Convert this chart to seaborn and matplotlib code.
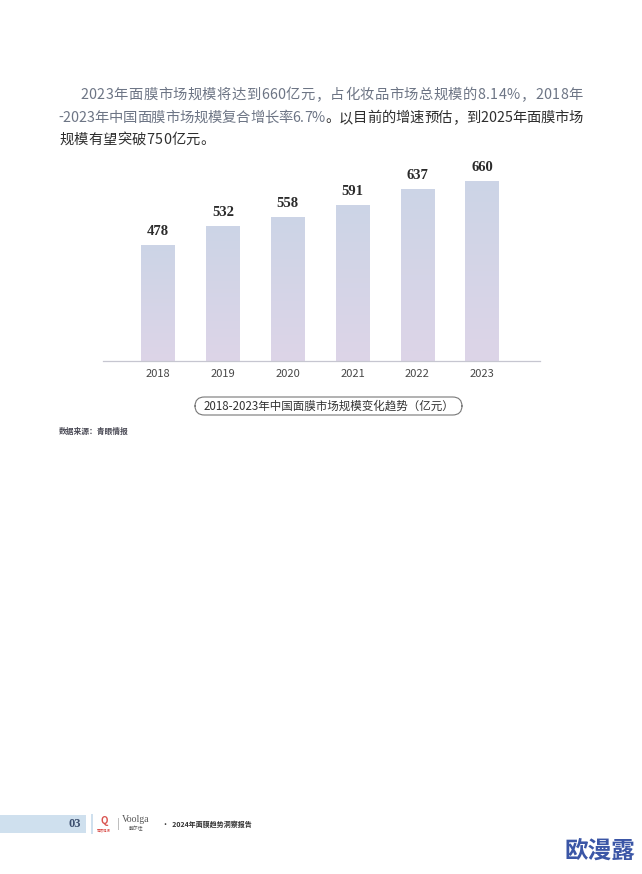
import numpy as np
import pandas as pd
import matplotlib
matplotlib.use("Agg")
import matplotlib.pyplot as plt
from matplotlib.patches import FancyBboxPatch, Rectangle
from matplotlib.colors import LinearSegmentedColormap
import seaborn as sns

sns.set_style("white")
plt.rcParams['font.family'] = ['Noto Sans CJK SC', 'DejaVu Sans']

# data
years = ['2018', '2019', '2020', '2021', '2022', '2023']
market_size = [478, 532, 558, 591, 637, 660]

intro_lines = [
    [("2023年面膜市场规模将达到660亿元，占化妆品市场总规模的8.14%，2018年", '#6d7585')],
    [("-2023年中国面膜市场规模复合增长率6.7%", '#6d7585'),
     ("。以目前的增速预估，到2025年面膜市场", '#2e2e2e')],
    [("规模有望突破750亿元。", '#2e2e2e')],
]
caption = "2018-2023年中国面膜市场规模变化趋势（亿元）"
source = "数据来源：青眼情报"

W, H = 642, 874
fig = plt.figure(figsize=(W / 100, H / 100), dpi=100)
fig.patch.set_facecolor('white')


def px(x, y):
    return x / W, 1 - y / H


# ---- intro paragraph (justified line by line) ----
renderer = fig.canvas.get_renderer()
line_specs = [(80, 583, 95, True), (58, 583, 118, True), (59, None, 140, False)]
for segs, (x0, x1, y, justify) in zip(intro_lines, line_specs):
    chars = [(c, col) for s, col in segs for c in s]
    widths = []
    for c, col in chars:
        t = fig.text(0, 0, c, fontsize=10.3)
        widths.append(t.get_window_extent(renderer).width)
        t.remove()
    gap = (x1 - x0 - sum(widths)) / (len(chars) - 1) if justify else 0.3
    x = x0
    for (c, col), w in zip(chars, widths):
        fx, fy = px(x, y)
        fig.text(fx, fy, c, fontsize=10.3, color=col, va='center', ha='left')
        x += w + gap

# ---- bar chart ----
ax = fig.add_axes([103 / W, 1 - 361 / H, (540 - 103) / W, (361 - 160) / H])
df = pd.DataFrame({'year': years, 'size': market_size})
sns.barplot(data=df, x='year', y='size', ax=ax, width=0.52,
            color='#d4d6e8', saturation=1, linewidth=0)

cmap = LinearSegmentedColormap.from_list('bar', ['#ddd4e8', '#ccd5e6'])
grad = np.linspace(0, 1, 256).reshape(-1, 1)
for bar, v in zip(ax.patches, market_size):
    bx = bar.get_x()
    bw = bar.get_width()
    im = ax.imshow(grad, extent=[bx, bx + bw, 148, v], origin='lower',
                   cmap=cmap, aspect='auto', zorder=2)
    im.set_clip_path(bar)
    ax.text(bx + bw / 2, v + 20, str(v), ha='center', va='bottom',
            fontsize=10.5, fontweight='bold', family='Liberation Serif',
            color='#2b2b2b')
ax.set_xlim(-0.85, 5.89)
ax.set_ylim(148, 719)

sns.despine(ax=ax, left=True)
ax.spines['bottom'].set_color('#c6c6d0')
ax.spines['bottom'].set_linewidth(0.9)
ax.set_yticks([])
ax.set_xlabel('')
ax.set_ylabel('')
ax.tick_params(axis='x', length=0, pad=6, labelsize=8, labelcolor='#474747')
ax.patch.set_alpha(0)

# ---- caption pill ----
cx0, cy0 = px(195, 415)
cx1, cy1 = px(462, 397)
fig.patches.append(FancyBboxPatch((cx0, cy0), cx1 - cx0, cy1 - cy0,
                                  boxstyle='round,pad=0,rounding_size=0.0145',
                                  transform=fig.transFigure, fill=False,
                                  edgecolor='#777777', linewidth=0.8,
                                  mutation_aspect=W / H))
fig.text(*px(328.5, 406), caption, ha='center', va='center', fontsize=8.3,
         color='#333333')

fig.text(*px(59, 431), source, ha='left', va='center', fontsize=5.6,
         fontweight='bold', color='#4a4a55')

# ---- footer ----
fig.patches.append(Rectangle(px(0, 833), 86 / W, 18 / H,
                             transform=fig.transFigure, color='#cfe0ee', lw=0))
fig.patches.append(Rectangle(px(91, 834), 2.5 / W, 20 / H,
                             transform=fig.transFigure, color='#cfe0ee', lw=0))
fig.text(*px(75, 824), '03', ha='center', va='center', fontsize=9,
         fontweight='bold', family='Liberation Serif', color='#3d5070')
fig.text(*px(104, 821), 'Q', ha='center', va='center', fontsize=7,
         fontweight='bold', color='#d9534f')
fig.text(*px(104, 830), '青眼情报', ha='center', va='center', fontsize=2.5,
         color='#d9534f')
fig.text(*px(118, 824), '|', ha='center', va='center', fontsize=8,
         color='#aaaaaa')
fig.text(*px(136, 819), 'Voolga', ha='center', va='center', fontsize=7,
         family='Liberation Serif', color='#555555')
fig.text(*px(136, 829), '敷尔佳', ha='center', va='center', fontsize=3.5,
         color='#555555')
fig.text(*px(162, 824), '·  2024年面膜趋势洞察报告', ha='left', va='center',
         fontsize=5, fontweight='bold', color='#333333')

# watermark
fig.text(*px(600, 851), '欧漫露', ha='center', va='center', fontsize=17,
         fontweight='bold', color='#3b56a6')

fig.savefig('out.png', dpi=100)
